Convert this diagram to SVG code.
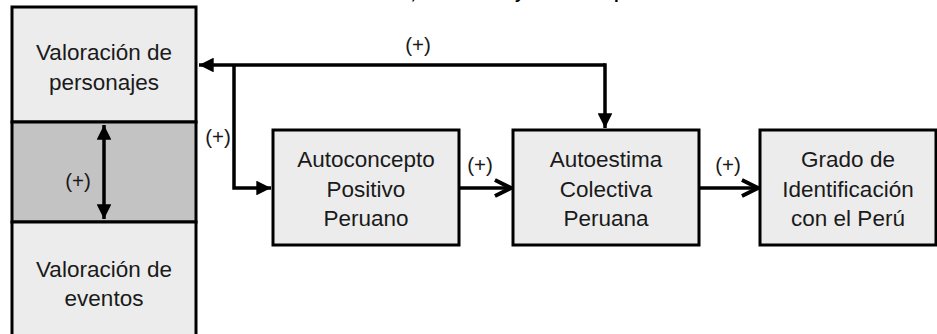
<svg xmlns="http://www.w3.org/2000/svg" width="937" height="334" viewBox="0 0 937 334">
<style>
.box{fill:#ececec;stroke:#000;stroke-width:3}
.dark{fill:#c3c3c3;stroke:#000;stroke-width:3}
.t{font-family:"Liberation Sans",Arial,sans-serif;font-size:22.5px;fill:#1a1a1a;text-anchor:middle}
.lbl{font-family:"Liberation Sans",Arial,sans-serif;font-size:20.5px;fill:#1a1a1a;text-anchor:middle}
.c{fill:none;stroke:#000;stroke-width:3.5}
</style>
<defs>
<marker id="tri" viewBox="0 0 10 10" refX="10" refY="5" markerWidth="4.2" markerHeight="4.2" orient="auto-start-reverse" markerUnits="strokeWidth">
<path d="M0,0 L10,5 L0,10 z" fill="#000"/>
</marker>
<marker id="chev" viewBox="0 0 12 12" refX="11" refY="6" markerWidth="5.5" markerHeight="5.5" orient="auto" markerUnits="strokeWidth">
<path d="M1,1 L11,6 L1,11" fill="none" stroke="#000" stroke-width="2.4" stroke-linejoin="miter"/>
</marker>
</defs>
<text x="510" y="-1" font-family="'Liberation Sans',Arial,sans-serif" font-size="17" font-weight="bold" text-anchor="middle" fill="#000">Identificación, autoestima y autoconcepto colectivo</text>
<g id="valoracion-personajes">
<rect class="box" x="12" y="7" width="184" height="115"/>
<text class="t" x="104" y="60">Valoración de</text>
<text class="t" x="104" y="90">personajes</text>
</g>
<g id="relacion">
<rect class="dark" x="12" y="122" width="184" height="100"/>
<text class="lbl" x="78" y="188">(+)</text>
</g>
<g id="valoracion-eventos">
<rect class="box" x="12" y="222" width="184" height="120"/>
<text class="t" x="104" y="277">Valoración de</text>
<text class="t" x="104" y="306">eventos</text>
</g>
<g id="autoconcepto">
<rect class="box" x="273" y="130" width="186" height="115"/>
<text class="t" x="366" y="167">Autoconcepto</text>
<text class="t" x="366" y="197">Positivo</text>
<text class="t" x="366" y="226">Peruano</text>
</g>
<g id="autoestima">
<rect class="box" x="513" y="130" width="186" height="115"/>
<text class="t" x="606" y="167">Autoestima</text>
<text class="t" x="606" y="197">Colectiva</text>
<text class="t" x="606" y="226">Peruana</text>
</g>
<g id="grado">
<rect class="box" x="760" y="130" width="176" height="115"/>
<text class="t" x="848" y="167">Grado de</text>
<text class="t" x="848" y="197">Identificación</text>
<text class="t" x="848" y="226">con el Perú</text>
</g>
<g id="connectors">
<line class="c" x1="104" y1="125" x2="104" y2="219" marker-start="url(#tri)" marker-end="url(#tri)"/>
<polyline class="c" points="605,65 199,65" marker-end="url(#tri)"/>
<path class="c" d="M605,63.25 L605,128" marker-end="url(#tri)"/>
<polyline class="c" points="234,65 234,188 271,188" marker-end="url(#tri)"/>
<line class="c" x1="459" y1="188" x2="511" y2="188" marker-end="url(#chev)"/>
<line class="c" x1="699" y1="188" x2="758" y2="188" marker-end="url(#chev)"/>
<text class="lbl" x="418" y="52">(+)</text>
<text class="lbl" x="218" y="144">(+)</text>
<text class="lbl" x="480" y="172">(+)</text>
<text class="lbl" x="728" y="172">(+)</text>
</g>
</svg>
